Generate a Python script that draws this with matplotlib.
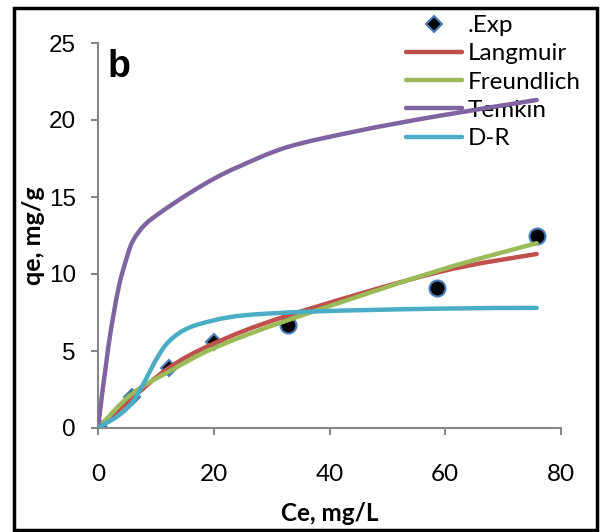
import numpy as np
import matplotlib.pyplot as plt
from matplotlib.path import Path
from matplotlib.patches import PathPatch, Rectangle
from matplotlib.lines import Line2D

# Data
ce = [0, 5.8, 12.2, 20.1, 32.8, 58.6, 75.8]
qe_exp = [0, 2.0, 3.9, 5.6, 6.7, 9.1, 12.45]
exp_marker = ['o', 'D', 'D', 'D', 'o', 'o', 'o']
q_langmuir = [0, 1.9, 3.9, 5.5, 7.3, 10.1, 11.3]
q_freundlich = [0, 2.2, 3.65, 5.2, 7.0, 10.2, 12.0]
q_dr = [0, 1.6, 5.6, 7.0, 7.5, 7.75, 7.8]
# Temkin bends sharply, so it is read at more points
ce_temkin = [0, 1.8, 3.5, 5.0, 6.1, 8.1, 11.0, 15.6, 20.1, 24.5, 32.8, 45, 58.6, 75.8]
q_temkin = [0, 5.3, 9.0, 11.1, 12.2, 13.2, 14.05, 15.2, 16.2, 17.0, 18.25, 19.3, 20.25, 21.3]

x_ticks = [0, 20, 40, 60, 80]
y_ticks = [0, 5, 10, 15, 20, 25]

models = [
    ("Langmuir", ce, q_langmuir, "#C0504D"),
    ("Freundlich", ce, q_freundlich, "#9BBB59"),
    ("Temkin", ce_temkin, q_temkin, "#8064A2"),
    ("D-R", ce, q_dr, "#4BACC6"),
]


def smooth_path(x, y):
    # Excel-style smoothed line: cubic Bezier through the points
    pts = np.column_stack([x, y]).astype(float)
    p = np.vstack([pts[0], pts, pts[-1]])
    verts = [pts[0]]
    codes = [Path.MOVETO]
    for i in range(1, len(p) - 2):
        c1 = p[i] + (p[i + 1] - p[i - 1]) / 6
        c2 = p[i + 1] - (p[i + 2] - p[i]) / 6
        verts += [c1, c2, p[i + 1]]
        codes += [Path.CURVE4] * 3
    return Path(verts, codes)


fig = plt.figure(figsize=(6.03, 5.32), dpi=100)
ax = fig.add_axes([98 / 603, 1 - 428 / 532, 463 / 603, 385 / 532])

# experimental points (drawn under the model lines)
for x, y, m in zip(ce, qe_exp, exp_marker):
    ms = 11.5 if m == 'o' else 8
    ax.plot(x, y, marker=m, ms=ms, color='black', mec='#4A7EBB', mew=1.5,
            linestyle='none', zorder=2)

for name, xs, q, col in models:
    patch = PathPatch(smooth_path(xs, q), fill=False, edgecolor=col, lw=3.2,
                      capstyle='round', joinstyle='round', zorder=3)
    ax.add_patch(patch)

ax.set_xlim(0, 80)
ax.set_ylim(0, 25)
ax.set_xticks(x_ticks)
ax.set_yticks(y_ticks)

for s in ['top', 'right']:
    ax.spines[s].set_visible(False)
for s in ['left', 'bottom']:
    ax.spines[s].set_color('#868686')
    ax.spines[s].set_linewidth(1.5)

ax.tick_params(axis='both', direction='out', length=5, width=1.5, color='#868686')
ax.tick_params(axis='x', pad=21)
ax.tick_params(axis='y', pad=11)
for lab in ax.get_xticklabels():
    lab.set_fontfamily('Lato')
    lab.set_fontsize(17.5)
for lab in ax.get_yticklabels():
    lab.set_fontfamily('Liberation Sans')
    lab.set_fontsize(17.5)

ax.set_xlabel('Ce, mg/L', fontfamily='Lato', fontweight='bold', fontsize=17.5)
ax.xaxis.set_label_coords(0.5, -0.192)
ax.set_ylabel('qe, mg/g', fontfamily='Lato', fontweight='bold', fontsize=18)
ax.yaxis.set_label_coords(-0.115, 0.5)

fig.text(108 / 603, 1 - 77 / 532, 'b', fontfamily='Liberation Sans',
         fontweight='bold', fontsize=27, ha='left', va='baseline')

handles = [Line2D([], [], marker='D', ms=8, color='black', mec='#4A7EBB',
                  mew=1.5, linestyle='none')]
handles += [Line2D([], [], color=col, lw=3.2, solid_capstyle='round')
            for _, _, _, col in models]
labels = ['.Exp'] + [m[0] for m in models]
leg = ax.legend(handles, labels, loc='upper left',
                bbox_to_anchor=(406 / 603, 1 - 15 / 532),
                bbox_transform=fig.transFigure, frameon=False, borderpad=0,
                borderaxespad=0, handlelength=2.3, handletextpad=0.25,
                labelspacing=0.3, prop={'family': 'Lato', 'size': 17.5})
leg.set_zorder(1)

# black outer border
fig.patches.append(Rectangle((14 / 603, 2 / 532), 583 / 603, 522 / 532,
                             transform=fig.transFigure, fill=False,
                             edgecolor='black', lw=2.5))

plt.savefig('out.png', dpi=100)
